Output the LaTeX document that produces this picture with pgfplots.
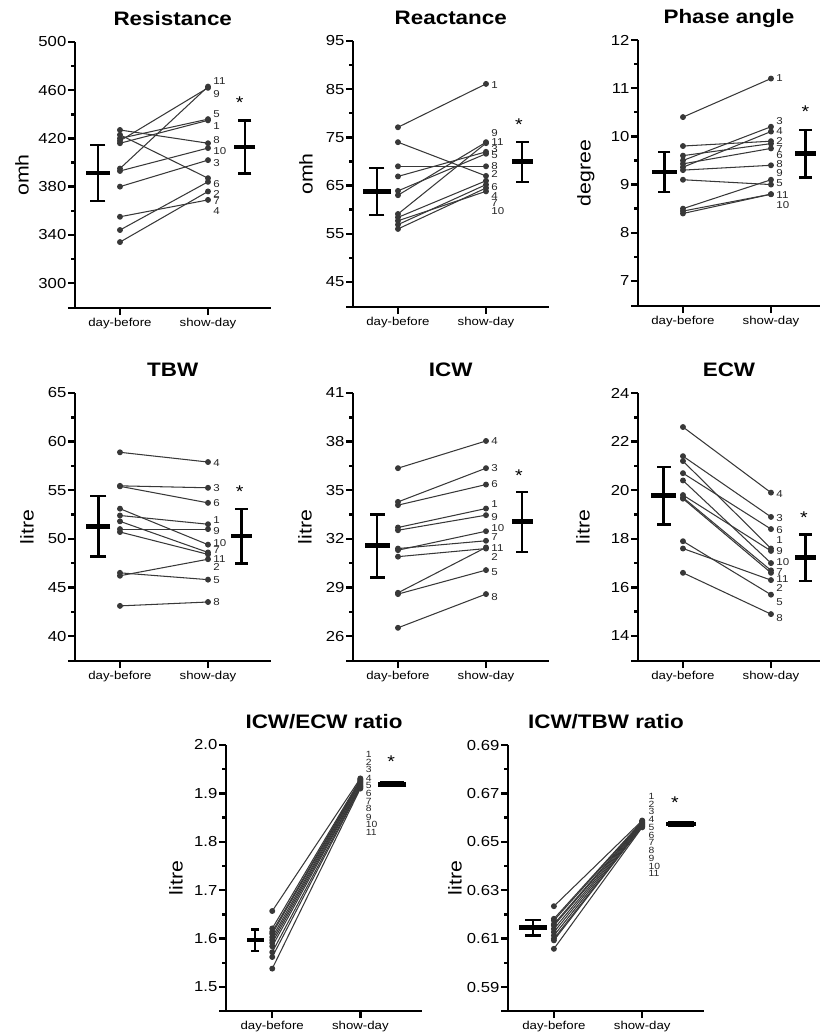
\documentclass[border=0pt]{standalone}
\usepackage{fontspec}
\setmainfont{Liberation Sans}[FakeStretch=1.15]
\usepackage{pgfplots}
\pgfplotsset{compat=1.18}
\definecolor{subj}{HTML}{383838}

\newcommand{\fs}[1]{\fontsize{#1}{#1}\selectfont}

\pgfplotsset{
  bia/.style={
    scale only axis,
    axis x line=bottom, axis y line=left,
    axis line style={-, line width=2.4pt},
    x axis line style={shorten <=-7pt},
    every tick/.style={black, line width=2.4pt},
    tick align=outside,
    major tick length=7pt, minor tick length=4pt,
    minor y tick num=1,
    xtick={1,2}, xticklabels={day-before, show-day},
    xticklabel style={font=\fs{11.5}},
    yticklabel style={font=\fs{14.5}, inner sep=1.5pt},
    /pgf/number format/assume math mode=true,
    title style={font=\bfseries\fs{19.5}, at={(axis description cs:0.5,1)}, anchor=base, yshift=11pt},
    clip=false,
  },
  ylab/.style={ylabel style={at={(axis description cs:#1,0.5)}, anchor=center, font=\fs{18.5}}},
  sub/.style={subj, line width=1.05pt, mark=*, mark size=2.4pt},
}
\tikzset{
  lab/.style={font=\fs{10}, anchor=west, inner sep=0pt, text=black!85},
  rlab/.style={font=\fs{9}, anchor=west, inner sep=0pt, text=black!85},
  star/.style={font=\fs{17}, anchor=base, yshift=-9.7pt},
}
\newcommand{\subject}[2]{\addplot[sub] coordinates {(1,#1) (2,#2)};}
% x, mean, low, high, half width of mean bar, half width of caps
\newcommand{\meansd}[6]{%
  \addplot[black, line width=2.4pt] coordinates {(#1,#3) (#1,#4)};
  \addplot[black, only marks, mark=-, mark size=#6pt, mark options={line width=2.4pt}] coordinates {(#1,#3) (#1,#4)};
  \addplot[black, only marks, mark=-, mark size=#5pt, mark options={line width=4.8pt}] coordinates {(#1,#2)};
}

\begin{document}
\begin{tikzpicture}
\path[use as bounding box] (0,0) rectangle (821pt,-1034pt);

% ---------- Resistance
\begin{axis}[bia, at={(75pt,-308pt)}, anchor=south west,
  width=195.5pt, height=266pt, xmin=0.489, xmax=2.71,
  ymin=279.3, ymax=500, ytick={300,340,...,500},
  title={Resistance}, ylabel={omh}, ylab=-0.271]
\subject{427}{416}
\subject{423}{387}
\subject{420}{436}
\subject{418}{462}
\subject{416}{435}
\subject{395}{463}
\subject{393}{412}
\subject{380}{402}
\subject{355}{369}
\subject{344}{384}
\subject{334}{376}
\meansd{0.75}{391.3}{368.3}{414.5}{12}{7.5}
\meansd{2.42}{412.9}{391}{435}{10.5}{6.5}
\node[lab] at (axis cs:2.06,467.9) {11};
\node[lab] at (axis cs:2.06,456.8) {9};
\node[lab] at (axis cs:2.06,440.2) {5};
\node[lab] at (axis cs:2.06,430.0) {1};
\node[lab] at (axis cs:2.06,418.4) {8};
\node[lab] at (axis cs:2.06,409.3) {10};
\node[lab] at (axis cs:2.06,399.6) {3};
\node[lab] at (axis cs:2.06,382.4) {6};
\node[lab] at (axis cs:2.06,374.1) {2};
\node[lab] at (axis cs:2.06,368.3) {7};
\node[lab] at (axis cs:2.06,359.5) {4};
\node[star] at (axis cs:2.36,452.7) {*};
\end{axis}

% ---------- Reactance
\begin{axis}[bia, at={(353pt,-307pt)}, anchor=south west,
  width=195.5pt, height=266pt, xmin=0.489, xmax=2.71,
  ymin=39.8, ymax=95, ytick={45,55,...,95},
  title={Reactance}, ylabel={omh}, ylab=-0.240]
\subject{77.1}{86.1}
\subject{74.0}{67.0}
\subject{69.0}{69.0}
\subject{66.9}{72.0}
\subject{63.9}{71.6}
\subject{63.0}{74.0}
\subject{59.1}{73.8}
\subject{58.4}{66.0}
\subject{57.7}{63.8}
\subject{56.9}{65.2}
\subject{56.0}{64.5}
\meansd{0.76}{63.7}{58.9}{68.6}{14}{7.5}
\meansd{2.41}{70.0}{65.8}{74.1}{10.5}{6.5}
\node[lab] at (axis cs:2.06,85.9) {1};
\node[lab] at (axis cs:2.06,75.9) {9};
\node[lab] at (axis cs:2.06,74.0) {11};
\node[lab] at (axis cs:2.06,72.6) {3};
\node[lab] at (axis cs:2.06,71.4) {5};
\node[lab] at (axis cs:2.06,69.1) {8};
\node[lab] at (axis cs:2.06,67.4) {2};
\node[lab] at (axis cs:2.06,64.6) {6};
\node[lab] at (axis cs:2.06,62.9) {4};
\node[lab] at (axis cs:2.06,61.4) {7};
\node[lab] at (axis cs:2.06,59.8) {10};
\node[star] at (axis cs:2.375,78.5) {*};
\end{axis}

% ---------- Phase angle
\begin{axis}[bia, at={(638pt,-306pt)}, anchor=south west,
  width=182pt, height=266pt, xmin=0.489, xmax=2.557,
  ymin=6.48, ymax=12, ytick={7,...,12},
  title={Phase angle}, ylabel={degree}, ylab=-0.286]
\subject{10.4}{11.2}
\subject{9.8}{9.9}
\subject{9.6}{9.85}
\subject{9.5}{10.2}
\subject{9.43}{9.75}
\subject{9.36}{10.1}
\subject{9.3}{9.4}
\subject{9.1}{9.0}
\subject{8.5}{9.1}
\subject{8.45}{8.8}
\subject{8.4}{8.8}
\meansd{0.79}{9.26}{8.84}{9.67}{12.5}{6}
\meansd{2.39}{9.64}{9.15}{10.13}{10.5}{6.5}
\node[lab] at (axis cs:2.06,11.20) {1};
\node[lab] at (axis cs:2.06,10.31) {3};
\node[lab] at (axis cs:2.06,10.11) {4};
\node[lab] at (axis cs:2.06,9.90) {2};
\node[lab] at (axis cs:2.06,9.73) {7};
\node[lab] at (axis cs:2.06,9.62) {6};
\node[lab] at (axis cs:2.06,9.43) {8};
\node[lab] at (axis cs:2.06,9.24) {9};
\node[lab] at (axis cs:2.06,9.03) {5};
\node[lab] at (axis cs:2.06,8.79) {11};
\node[lab] at (axis cs:2.06,8.58) {10};
\node[star] at (axis cs:2.39,10.59) {*};
\end{axis}

% ---------- TBW
\begin{axis}[bia, at={(75pt,-661pt)}, anchor=south west,
  width=195.5pt, height=268pt, xmin=0.489, xmax=2.71,
  ymin=37.43, ymax=65, ytick={40,45,...,65},
  title={TBW}, ylabel={litre}, ylab=-0.246]
\subject{58.9}{57.9}
\subject{55.45}{55.25}
\subject{55.4}{53.7}
\subject{53.1}{49.4}
\subject{52.4}{51.5}
\subject{51.8}{48.6}
\subject{51.0}{51.0}
\subject{50.7}{48.4}
\subject{46.2}{47.9}
\subject{46.5}{45.8}
\subject{43.1}{43.5}
\meansd{0.755}{51.3}{48.2}{54.4}{12}{8}
\meansd{2.38}{50.3}{47.47}{53.05}{10.5}{6.5}
\node[lab] at (axis cs:2.06,57.8) {4};
\node[lab] at (axis cs:2.06,55.2) {3};
\node[lab] at (axis cs:2.06,53.7) {6};
\node[lab] at (axis cs:2.06,51.9) {1};
\node[lab] at (axis cs:2.06,50.8) {9};
\node[lab] at (axis cs:2.06,49.6) {10};
\node[lab] at (axis cs:2.06,48.8) {7};
\node[lab] at (axis cs:2.06,47.9) {11};
\node[lab] at (axis cs:2.06,47.05) {2};
\node[lab] at (axis cs:2.06,45.8) {5};
\node[lab] at (axis cs:2.06,43.5) {8};
\node[star] at (axis cs:2.36,55.2) {*};
\end{axis}

% ---------- ICW
\begin{axis}[bia, at={(353pt,-661pt)}, anchor=south west,
  width=195.5pt, height=268pt, xmin=0.489, xmax=2.71,
  ymin=24.46, ymax=41, ytick={26,29,...,41},
  title={ICW}, ylabel={litre}, ylab=-0.246]
\subject{36.36}{38.04}
\subject{34.28}{36.36}
\subject{34.08}{35.35}
\subject{32.70}{33.87}
\subject{32.53}{33.46}
\subject{31.40}{31.88}
\subject{31.30}{32.47}
\subject{30.90}{31.40}
\subject{28.67}{31.47}
\subject{28.59}{30.07}
\subject{26.51}{28.59}
\meansd{0.765}{31.57}{29.62}{33.5}{12.5}{7.5}
\meansd{2.41}{33.05}{31.2}{34.9}{10.5}{6}
\node[lab] at (axis cs:2.06,38.04) {4};
\node[lab] at (axis cs:2.06,36.38) {3};
\node[lab] at (axis cs:2.06,35.35) {6};
\node[lab] at (axis cs:2.06,34.12) {1};
\node[lab] at (axis cs:2.06,33.32) {9};
\node[lab] at (axis cs:2.06,32.64) {10};
\node[lab] at (axis cs:2.06,32.08) {7};
\node[lab] at (axis cs:2.06,31.45) {11};
\node[lab] at (axis cs:2.06,30.85) {2};
\node[lab] at (axis cs:2.06,29.93) {5};
\node[lab] at (axis cs:2.06,28.43) {8};
\node[star] at (axis cs:2.375,36.13) {*};
\end{axis}

% ---------- ECW
\begin{axis}[bia, at={(638pt,-661pt)}, anchor=south west,
  width=182pt, height=268pt, xmin=0.489, xmax=2.557,
  ymin=12.97, ymax=24, ytick={14,16,...,24},
  title={ECW}, ylabel={litre}, ylab=-0.302]
\subject{22.6}{19.9}
\subject{21.4}{18.9}
\subject{21.2}{17.6}
\subject{20.7}{18.4}
\subject{20.4}{17.0}
\subject{19.8}{17.5}
\subject{19.7}{16.7}
\subject{19.65}{16.6}
\subject{17.9}{15.7}
\subject{17.6}{16.3}
\subject{16.6}{14.9}
\meansd{0.78}{19.77}{18.59}{20.96}{12.5}{7}
\meansd{2.39}{17.22}{16.26}{18.18}{10.5}{6.5}
\node[lab] at (axis cs:2.06,19.86) {4};
\node[lab] at (axis cs:2.06,18.86) {3};
\node[lab] at (axis cs:2.06,18.36) {6};
\node[lab] at (axis cs:2.06,17.95) {1};
\node[lab] at (axis cs:2.06,17.49) {9};
\node[lab] at (axis cs:2.06,17.03) {10};
\node[lab] at (axis cs:2.06,16.64) {7};
\node[lab] at (axis cs:2.06,16.33) {11};
\node[lab] at (axis cs:2.06,15.96) {2};
\node[lab] at (axis cs:2.06,15.41) {5};
\node[lab] at (axis cs:2.06,14.75) {8};
\node[star] at (axis cs:2.375,19.02) {*};
\end{axis}

% ---------- ICW/ECW ratio
\begin{axis}[bia, at={(226pt,-1011pt)}, anchor=south west,
  width=196pt, height=266pt, xmin=0.475, xmax=2.70,
  ymin=1.4504, ymax=2.0, ytick={1.5,1.6,1.7,1.8,1.9,2.0},
  yticklabel style={/pgf/number format/.cd, fixed, fixed zerofill, precision=1},
  title={ICW/ECW ratio}, ylabel={litre}, ylab=-0.255]
\subject{1.657}{1.931}
\subject{1.621}{1.929}
\subject{1.614}{1.927}
\subject{1.610}{1.925}
\subject{1.603}{1.923}
\subject{1.597}{1.921}
\subject{1.591}{1.918}
\subject{1.584}{1.916}
\subject{1.572}{1.914}
\subject{1.562}{1.912}
\subject{1.538}{1.910}
\meansd{0.805}{1.597}{1.574}{1.619}{8.5}{4}
\meansd{2.36}{1.919}{1.9155}{1.9225}{14}{12}
\node[rlab] at (axis cs:2.06,1.981) {1};
\node[rlab] at (axis cs:2.06,1.965) {2};
\node[rlab] at (axis cs:2.06,1.949) {3};
\node[rlab] at (axis cs:2.06,1.932) {4};
\node[rlab] at (axis cs:2.06,1.916) {5};
\node[rlab] at (axis cs:2.06,1.900) {6};
\node[rlab] at (axis cs:2.06,1.884) {7};
\node[rlab] at (axis cs:2.06,1.868) {8};
\node[rlab] at (axis cs:2.06,1.851) {9};
\node[rlab] at (axis cs:2.06,1.835) {10};
\node[rlab] at (axis cs:2.06,1.819) {11};
\node[star] at (axis cs:2.35,1.973) {*};
\end{axis}

% ---------- ICW/TBW ratio
\begin{axis}[bia, at={(508pt,-1011pt)}, anchor=south west,
  width=196pt, height=266pt, xmin=0.48, xmax=2.70,
  ymin=0.5801, ymax=0.69, ytick={0.59,0.61,0.63,0.65,0.67,0.69},
  yticklabel style={/pgf/number format/.cd, fixed, fixed zerofill, precision=2},
  title={ICW/TBW ratio}, ylabel={litre}, ylab=-0.27]
\subject{0.6234}{0.6588}
\subject{0.6182}{0.6585}
\subject{0.6175}{0.6582}
\subject{0.6160}{0.6580}
\subject{0.6154}{0.6577}
\subject{0.6140}{0.6575}
\subject{0.6127}{0.6572}
\subject{0.6113}{0.6569}
\subject{0.6100}{0.6566}
\subject{0.6093}{0.6563}
\subject{0.6058}{0.6560}
\meansd{0.76}{0.6145}{0.6113}{0.6178}{14}{8}
\meansd{2.44}{0.6574}{0.6567}{0.6581}{15}{13}
\node[rlab] at (axis cs:2.07,0.6688) {1};
\node[rlab] at (axis cs:2.07,0.6656) {2};
\node[rlab] at (axis cs:2.07,0.6624) {3};
\node[rlab] at (axis cs:2.07,0.6592) {4};
\node[rlab] at (axis cs:2.07,0.6560) {5};
\node[rlab] at (axis cs:2.07,0.6528) {6};
\node[rlab] at (axis cs:2.07,0.6496) {7};
\node[rlab] at (axis cs:2.07,0.6464) {8};
\node[rlab] at (axis cs:2.07,0.6432) {9};
\node[rlab] at (axis cs:2.07,0.6400) {10};
\node[rlab] at (axis cs:2.07,0.6368) {11};
\node[star] at (axis cs:2.37,0.6678) {*};
\end{axis}
\end{tikzpicture}
\end{document}
